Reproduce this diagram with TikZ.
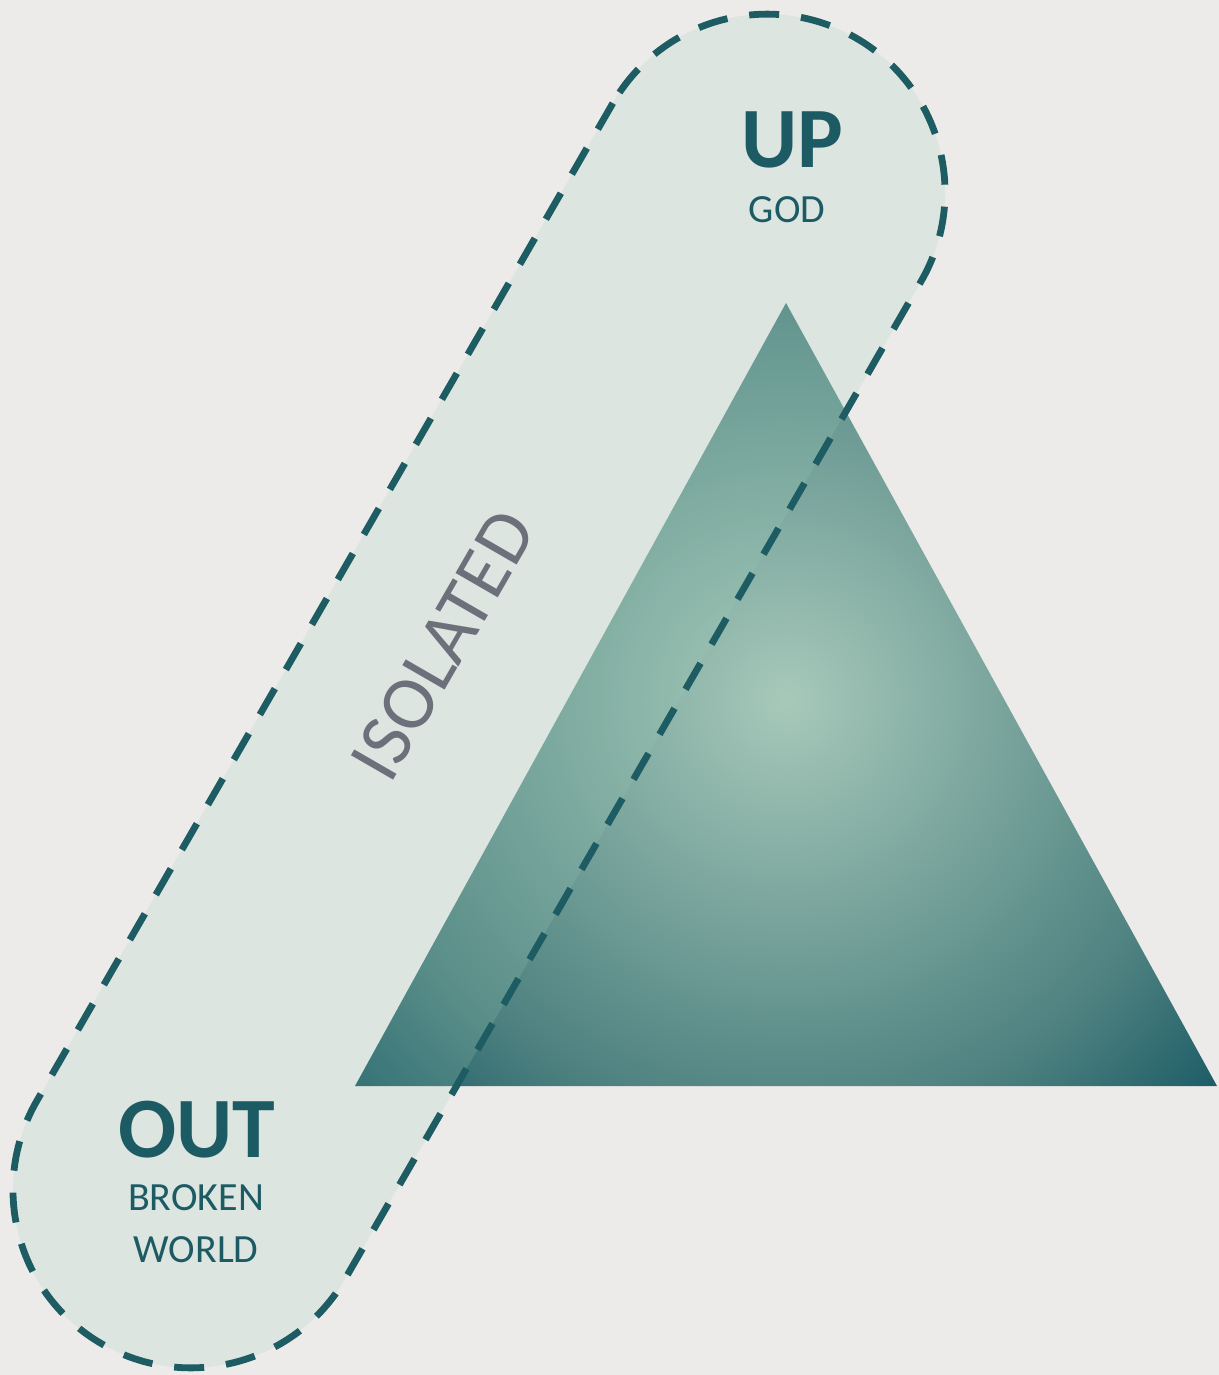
\documentclass[tikz,border=0pt]{standalone}
\usepackage{fontspec}
\setmainfont{Carlito}

\definecolor{paper}{RGB}{236,235,233}
\definecolor{deepteal}{RGB}{28,90,100}
\definecolor{dashteal}{RGB}{30,92,99}
\definecolor{bandtint}{RGB}{156,205,183}
\definecolor{slate}{RGB}{108,112,122}
\definecolor{tcentre}{RGB}{167,201,186}
\definecolor{tmid}{RGB}{76,128,127}
\definecolor{tedge}{RGB}{30,93,103}

\pgfdeclareradialshading{pyramidglow}{\pgfpoint{0bp}{0bp}}{color(0bp)=(tcentre); color(18bp)=(tmid); color(24bp)=(tedge); color(50bp)=(tedge)}

\begin{document}
\begin{tikzpicture}
[x=0.5pt, y=-0.5pt, every node/.style={inner sep=0pt},
 heading/.style={font=\bfseries\fontsize{43}{43}\selectfont, text=deepteal},
 caption/.style={font=\fontsize{20}{24}\selectfont, text=deepteal}]
\useasboundingbox (0,0) rectangle (1219,1375);
\fill [paper] (0,0) rectangle (1219,1375);
\begin{scope}
\clip (355,1086) -- (1217,1086) -- (786,303) -- cycle;
\shade [shading=pyramidglow] (786,700) circle [radius=600];
\end{scope}
\node (band) [rectangle, rounded corners=89pt, minimum width=754pt, minimum height=178pt, rotate=60, fill=bandtint, fill opacity=0.2, draw=dashteal, line width=3.4pt, dash pattern=on 15pt off 11pt] at (479,691) {};
\node (up) [heading] at (792,140) {UP};
\node (god) [caption] at (787,210) {GOD};
\node (out) [heading] at (197,1130) {OUT};
\node (broken) [caption] at (196,1198) {BROKEN};
\node (world) [caption] at (196,1250) {WORLD};
\node (isolated) [rotate=60, font=\fontsize{38}{38}\selectfont, text=slate] at (443,645) {ISOLATED};
\end{tikzpicture}
\end{document}
